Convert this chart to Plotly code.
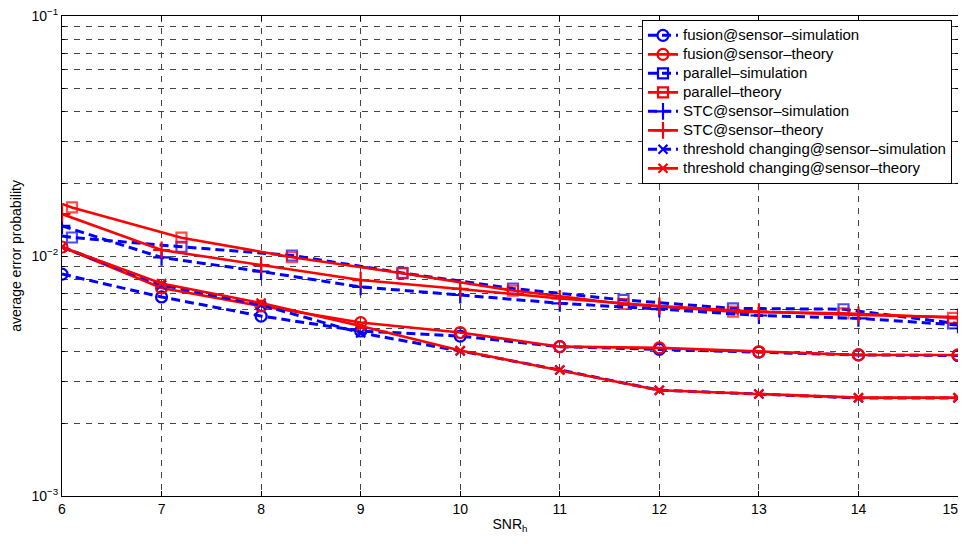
import plotly.graph_objects as go

snr = [6, 7, 8, 9, 10, 11, 12, 13, 14, 15]
# last label padded so it is not clipped at the right edge of the page
x_ticktext = ["6", "7", "8", "9", "10", "11", "12", "13", "14", "15\u00a0\u00a0\u00a0\u00a0"]

fusion_sim = [0.00841, 0.00675, 0.00562, 0.00487, 0.00464, 0.00419, 0.00408, 0.00398, 0.00387, 0.00385]
fusion_theory = [0.01090, 0.00736, 0.00619, 0.00528, 0.00480, 0.00419, 0.00414, 0.00399, 0.00387, 0.00387]
stc_sim = [0.01334, 0.00986, 0.00862, 0.00743, 0.00688, 0.00635, 0.00601, 0.00565, 0.00550, 0.00516]
stc_theory = [0.01496, 0.01059, 0.00917, 0.00794, 0.00729, 0.00665, 0.00619, 0.00586, 0.00568, 0.00557]
thr_sim = [0.01090, 0.00757, 0.00625, 0.00478, 0.00402, 0.00335, 0.00276, 0.00266, 0.00256, 0.00256]
thr_theory = [0.01090, 0.00768, 0.00637, 0.00511, 0.00404, 0.00335, 0.00276, 0.00266, 0.00257, 0.00257]

# parallel curves (markers drawn on a sub-grid of the curve; end points have no marker)
par_x = [6, 6.1, 7.2, 8.31, 9.42, 10.53, 11.64, 12.74, 13.85, 14.95, 15]
par_marker = [0, 1, 1, 1, 1, 1, 1, 1, 1, 1, 0]
parallel_sim = [0.01212, 0.01194, 0.01093, 0.01005, 0.00850, 0.00732, 0.00656, 0.00605, 0.00600, 0.00524, 0.00522]
parallel_theory = [0.01647, 0.01593, 0.01192, 0.00988, 0.00847, 0.00718, 0.00631, 0.00586, 0.00577, 0.00552, 0.00552]

names = ["fusion@sensor–simulation", "fusion@sensor–theory",
         "parallel–simulation", "parallel–theory",
         "STC@sensor–simulation", "STC@sensor–theory",
         "threshold changing@sensor–simulation", "threshold changing@sensor–theory"]

y_ticks = [0.001, 0.01, 0.1]
y_ticktext = ["10<sup>−3</sup>", "10<sup>−2</sup>", "10<sup>−1</sup>"]
y_minor = [m * 10 ** e for e in (-3, -2) for m in range(2, 10)]

BLUE = "#0000ff"
RED = "#ff0000"
BDASH = "9px,5px"

fig = go.Figure()


def label(name):
    return '<span style="font-size:15px">' + name + "</span>"


def add(x, y, name, color, dash, symbol, size, width=2.6, legend_size=None):
    show = legend_size is None
    fig.add_trace(go.Scatter(
        x=x, y=y, name=label(name), mode="lines+markers", showlegend=show,
        legendgroup=name,
        line=dict(color=color, width=width, dash=dash),
        marker=dict(symbol=symbol, size=size, color=color,
                    line=dict(color=color, width=2.2)),
    ))
    if legend_size is not None:
        # legend entry for a curve whose markers sit on a sub-grid
        fig.add_trace(go.Scatter(
            x=[None], y=[None], name=label(name), mode="lines+markers",
            legendgroup=name, showlegend=True,
            line=dict(color=color, width=width, dash=dash),
            marker=dict(symbol=symbol, size=legend_size, color=color,
                        line=dict(color=color, width=2.2)),
        ))


add(snr, fusion_sim, names[0], BLUE, BDASH, "circle-open", 11, 3)
add(snr, fusion_theory, names[1], RED, "solid", "circle-open", 11)
add(par_x, parallel_sim, names[2], BLUE, BDASH, "square-open",
    [10 * m for m in par_marker], 3, legend_size=10)
add(par_x, parallel_theory, names[3], RED, "solid", "square-open",
    [10 * m for m in par_marker], legend_size=10)
add(snr, stc_sim, names[4], BLUE, BDASH, "cross-thin-open", 12, 3)
add(snr, stc_theory, names[5], RED, "solid", "cross-thin-open", 12)
add(snr, thr_sim, names[6], BLUE, BDASH, "x-thin-open", 9, 3)
add(snr, thr_theory, names[7], RED, "solid", "x-thin-open", 9)

GRID = "#444444"
# the page body adds an 8px offset, so the figure is smaller and margins shifted
fig.update_layout(
    width=958, height=528,
    margin=dict(l=54, r=8, t=8, b=40),
    paper_bgcolor="white", plot_bgcolor="white",
    font=dict(family="Liberation Sans, Arial, sans-serif", size=14, color="black"),
    showlegend=True,
    legend=dict(x=0.9933, y=0.992, xanchor="right", yanchor="top",
                bgcolor="white", bordercolor="black", borderwidth=1,
                font=dict(size=11.6), tracegroupgap=0),
    xaxis=dict(range=[6, 15], tickmode="array", tickvals=snr, ticktext=x_ticktext,
               automargin=False,
               showline=True, linecolor="black", linewidth=1, mirror="ticks",
               ticks="inside", ticklen=5, tickcolor="black",
               ticklabeloverflow="allow",
               showgrid=True, gridcolor=GRID, griddash="6px,6px", gridwidth=1,
               zeroline=False, tickfont=dict(size=14),
               title=dict(text="SNR<sub>h</sub>", standoff=3, font=dict(size=14))),
    yaxis=dict(type="log", range=[-3, -1], tickmode="array", automargin=False,
               tickvals=y_ticks, ticktext=y_ticktext,
               showline=True, linecolor="black", linewidth=1, mirror="ticks",
               ticks="inside", ticklen=5, tickcolor="black",
               ticklabeloverflow="allow",
               showgrid=True, gridcolor=GRID, griddash="6px,6px", gridwidth=1,
               zeroline=False, tickfont=dict(size=14),
               minor=dict(tickmode="array", tickvals=y_minor, ticks="inside",
                          ticklen=3, tickcolor="black", showgrid=True,
                          gridcolor=GRID, griddash="6px,6px", gridwidth=1),
               title=dict(text="average error probability", standoff=6,
                          font=dict(size=14))),
)

fig.write_html("out.html")
